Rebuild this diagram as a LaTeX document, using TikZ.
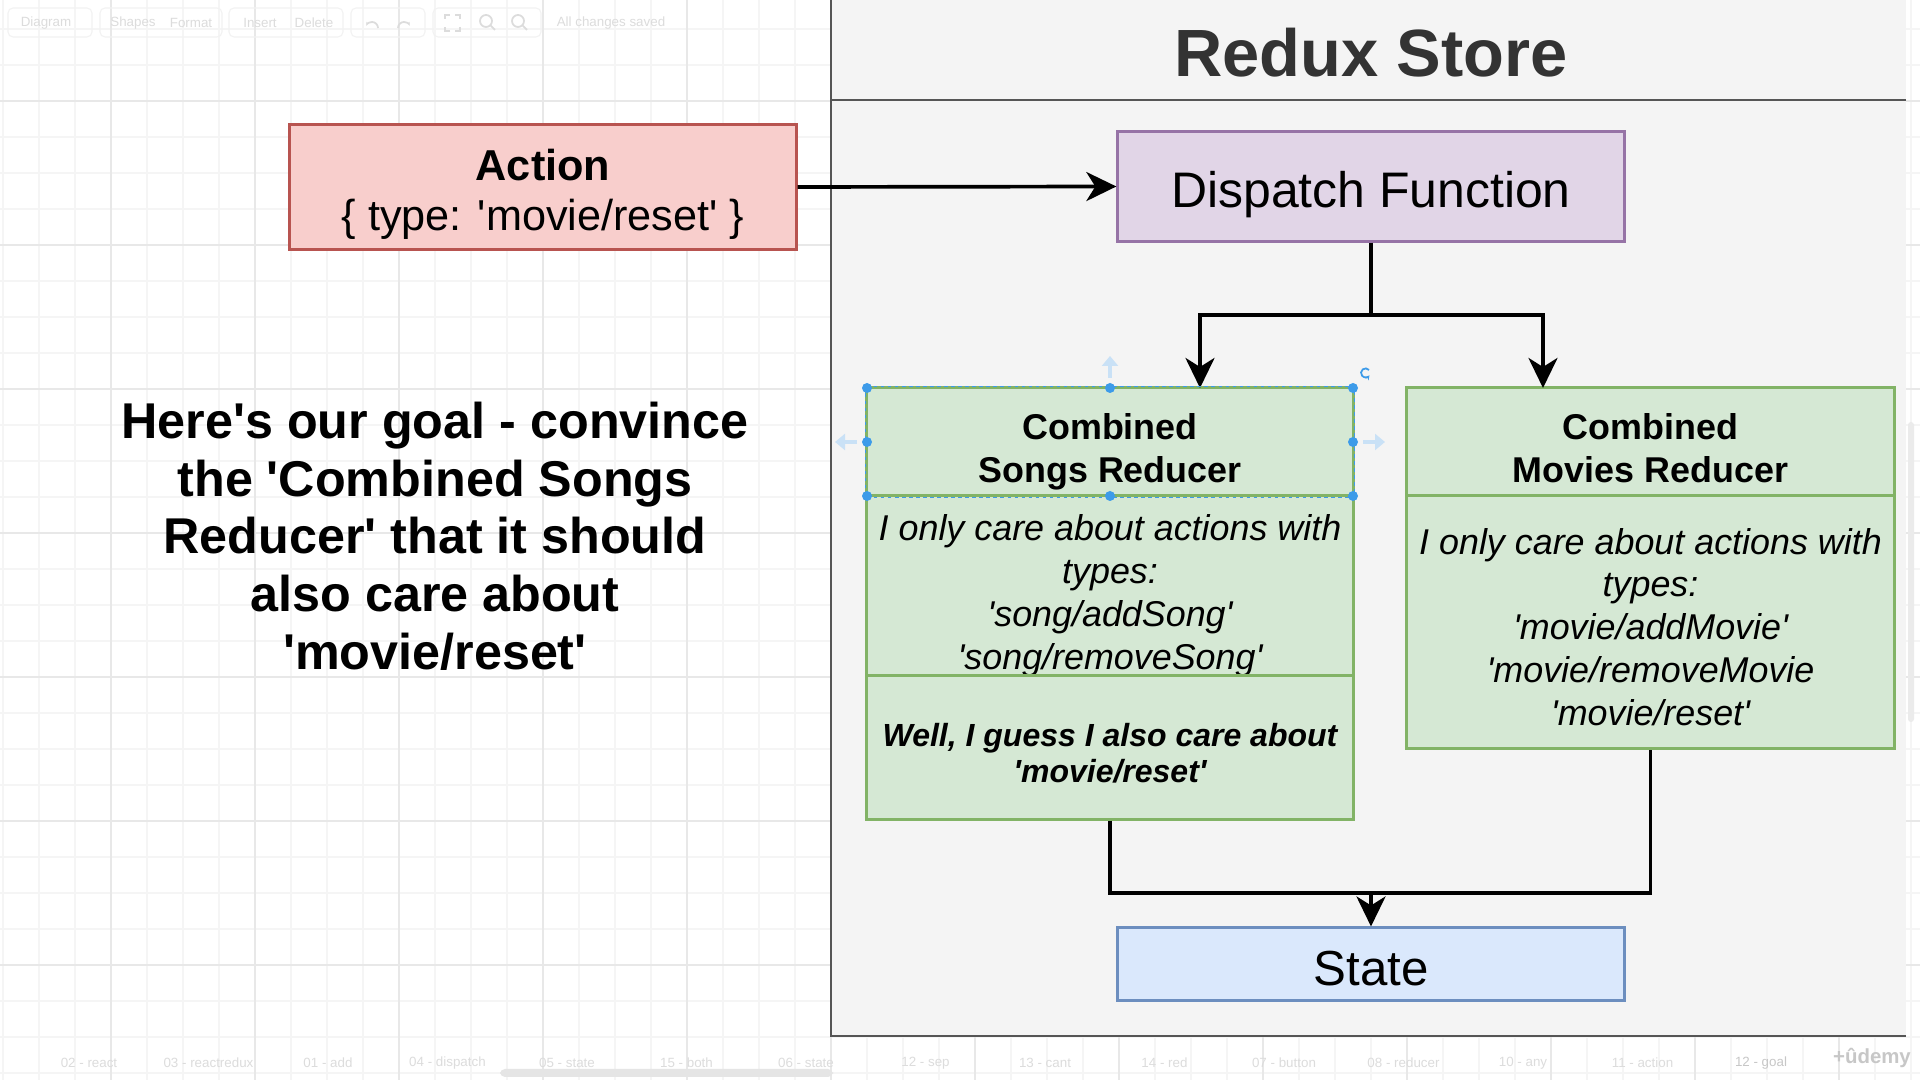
\documentclass[tikz,border=0pt]{standalone}
\usepackage{fontspec}
\setmainfont{Liberation Sans}[Ligatures=TeXOff]
\usetikzlibrary{arrows.meta}
\definecolor{actionfill}{HTML}{F8CECC}
\definecolor{actionline}{HTML}{B85450}
\definecolor{dispfill}{HTML}{E1D5E7}
\definecolor{displine}{HTML}{9673A6}
\definecolor{redfill}{HTML}{D5E8D4}
\definecolor{redline}{HTML}{82B366}
\definecolor{statefill}{HTML}{DAE8FC}
\definecolor{stateline}{HTML}{6C8EBF}
\definecolor{storefill}{HTML}{F4F4F4}
\definecolor{storeline}{HTML}{555555}
\definecolor{handleblue}{HTML}{3D9BE9}
\definecolor{hintblue}{HTML}{C9E1F6}
\definecolor{uigray}{HTML}{DCDCDC}
\newcommand{\fsz}[2]{\fontsize{#1}{#2}\selectfont}

\begin{document}
\begin{tikzpicture}[x=0.01cm,y=-0.01cm,>={Stealth[length=0.3cm,width=0.29cm,inset=0.09cm]},
	box/.style={draw,line width=0.85pt,inner sep=0pt},
	reducer/.style={box,fill=redfill,draw=redline},
	boxtext/.style={align=center,inner sep=0pt},
	wire/.style={line width=1.05pt},
	gridminor/.style={draw=black!4,line width=0.3pt},
	gridmajor/.style={draw=black!9,line width=0.4pt},
	uitext/.style={text=uigray,font=\fsz{3.8}{4.5},inner sep=0pt},
	uibox/.style={draw=black!5,line width=0.3pt,rounded corners=0.05cm},
	uiicon/.style={draw=uigray,line width=0.5pt},
	handle/.style={fill=handleblue},
	hint/.style={draw=hintblue,line width=1.4pt,-{Triangle[length=0.1cm,width=0.16cm]}}]
	\useasboundingbox (0,0) rectangle (1920,1080);
	\fill[white] (0,0) rectangle (1920,1080);
	\foreach \x in {3,39,...,1920} \draw[gridminor] (\x,0) -- (\x,1080);
	\foreach \y in {29,65,...,1080} \draw[gridminor] (0,\y) -- (1920,\y);
	\foreach \x in {111,255,...,1920} \draw[gridmajor] (\x,0) -- (\x,1080);
	\foreach \y in {101,245,...,1080} \draw[gridmajor] (0,\y) -- (1920,\y);

	\draw[uibox] (8,8) rectangle (92,37);
	\draw[uibox] (100,8) rectangle (222,37);
	\draw[uibox] (229,8) rectangle (343,37);
	\draw[uibox] (351,8) rectangle (425,37);
	\draw[uibox] (433,8) rectangle (541,37);
	\node[uitext] (tbDiagram) at (46,23) {Diagram};
	\node[uitext] (tbShapes) at (133,23) {Shapes};
	\node[uitext] (tbFormat) at (191,23) {Format};
	\node[uitext] (tbInsert) at (260,23) {Insert};
	\node[uitext] (tbDelete) at (314,23) {Delete};
	\node[uitext] (tbSaved) at (611,23) {All changes saved};
	\draw[uiicon,-{Stealth[length=0.04cm]}] (378,28) arc[start angle=0,end angle=160,radius=0.06cm];
	\draw[uiicon,-{Stealth[length=0.04cm]}] (398,28) arc[start angle=180,end angle=20,radius=0.06cm];
	\draw[uiicon] (445,19) |- (450,15) (455,15) -| (460,19) (460,27) |- (455,31) (450,31) -| (445,27);
	\draw[uiicon] (486,21) circle[radius=0.06cm] (490,25) -- (495,30);
	\draw[uiicon] (518,21) circle[radius=0.06cm] (522,25) -- (527,30);

	\fill[storefill] (831,0) rectangle (1906,1036);
	\draw[storeline,line width=0.75pt] (831,0) -- (831,1036) -- (1906,1036);
	\draw[storeline,line width=0.7pt] (831,100) -- (1906,100);
	\node[font=\fsz{19}{22}\bfseries,text=black!80] (title) at (1371,53) {Redux Store};

	\node[box,fill=actionfill,draw=actionline,minimum width=5.06cm,minimum height=1.24cm,
		label={[boxtext,font=\fsz{12.3}{14.2},yshift=-0.07cm]center:{\textbf{Action}\\\{ type: 'movie/reset' \}}}] (action) at (543,187) {};
	\node[box,fill=dispfill,draw=displine,minimum width=5.06cm,minimum height=1.09cm,
		label={[boxtext,font=\fsz{14.2}{17},yshift=-0.085cm]center:{Dispatch Function}}] (dispatch) at (1371,186.5) {};

	\node[reducer,minimum width=4.86cm,minimum height=1.08cm,
		label={[boxtext,font=\fsz{10.2}{12.2}\bfseries,yshift=-0.1cm]center:{Combined\\Songs Reducer}}] (songsHead) at (1110,442) {};
	\node[reducer,minimum width=4.86cm,minimum height=1.8cm,
		label={[boxtext,font=\fsz{10.2}{12.2}\itshape,yshift=-0.1cm]center:{I only care about actions with\\types:\\'song/addSong'\\'song/removeSong'}}] (songsBody) at (1110,586) {};
	\node[reducer,minimum width=4.86cm,minimum height=1.43cm,
		label={[boxtext,font=\fsz{9.1}{10.2}\bfseries\itshape,yshift=-0.06cm]center:{Well, I guess I also care about\\'movie/reset'}}] (songsNote) at (1110,747.5) {};
	\node[reducer,minimum width=4.87cm,minimum height=1.08cm,
		label={[boxtext,font=\fsz{10.2}{12.2}\bfseries,yshift=-0.06cm]center:{Combined\\Movies Reducer}}] (moviesHead) at (1650.5,442) {};
	\node[reducer,minimum width=4.87cm,minimum height=2.52cm,
		label={[boxtext,font=\fsz{10.2}{12.2}\itshape,yshift=-0.05cm]center:{I only care about actions with\\types:\\'movie/addMovie'\\'movie/removeMovie\\'movie/reset'}}] (moviesBody) at (1650.5,622) {};

	\node[box,fill=statefill,draw=stateline,minimum width=5.06cm,minimum height=0.72cm,
		label={[boxtext,font=\fsz{14}{17},yshift=-0.05cm]center:{State}}] (state) at (1371,964) {};

	\node[font=\fsz{14.3}{16.4}\bfseries,align=center] (goal) at (435,536) {Here's our goal - convince\\the 'Combined Songs\\Reducer' that it should\\also care about\\'movie/reset'};

	\coordinate (split) at (1371,315);
	\coordinate (songsIn) at (1200,388);
	\coordinate (moviesIn) at (1543,388);
	\coordinate (join) at (1371,893);
	\draw[wire,->] (action.east) -- (dispatch.west);
	\draw[wire] (dispatch.south) -- (split);
	\draw[wire,->] (split) -| (songsIn);
	\draw[wire,->] (split) -| (moviesIn);
	\draw[wire] (songsNote.south) |- (join) -| (moviesBody.south);
	\draw[wire,->] (join) -- (state.north);

	\draw[handleblue,line width=0.3pt,dash pattern=on 1pt off 1pt] (songsHead.north west) rectangle (songsHead.south east);
	\foreach \p in {(867,388),(1110,388),(1353,388),(867,442),(1353,442),(867,496),(1110,496),(1353,496)}
		\fill[handle] \p circle[radius=0.05cm];
	\draw[hint] (1110,378) -- (1110,356);
	\draw[hint] (857,442) -- (835,442);
	\draw[hint] (1363,442) -- (1385,442);
	\draw[handleblue,line width=0.5pt,-{Stealth[length=0.05cm]}] (1369,370) arc[start angle=40,end angle=330,radius=0.045cm];

	\fill[black!10,rounded corners=0.05cm] (500,1069) rectangle (833,1077);
	\fill[black!8,rounded corners=0.03cm] (1908,422) rectangle (1914,722);
	\foreach \t [count=\i] in {02 - react,03 - reactredux,01 - add,04 - dispatch,05 - state,15 - both,06 - state,12 - sep,13 - cant,14 - red,07 - button,08 - reducer,10 - any,11 - action}
		\node[uitext] (tab\i) at ({89+119.5*(\i-1)},1063) {\t};
	\node[uitext,text=black!22] (tabGoal) at (1761,1063) {12 - goal};
	\node[text=black!22,font=\fsz{5.8}{7}\bfseries,inner sep=0pt] (udemy) at (1872,1058) {+\^{u}demy};
\end{tikzpicture}
\end{document}
